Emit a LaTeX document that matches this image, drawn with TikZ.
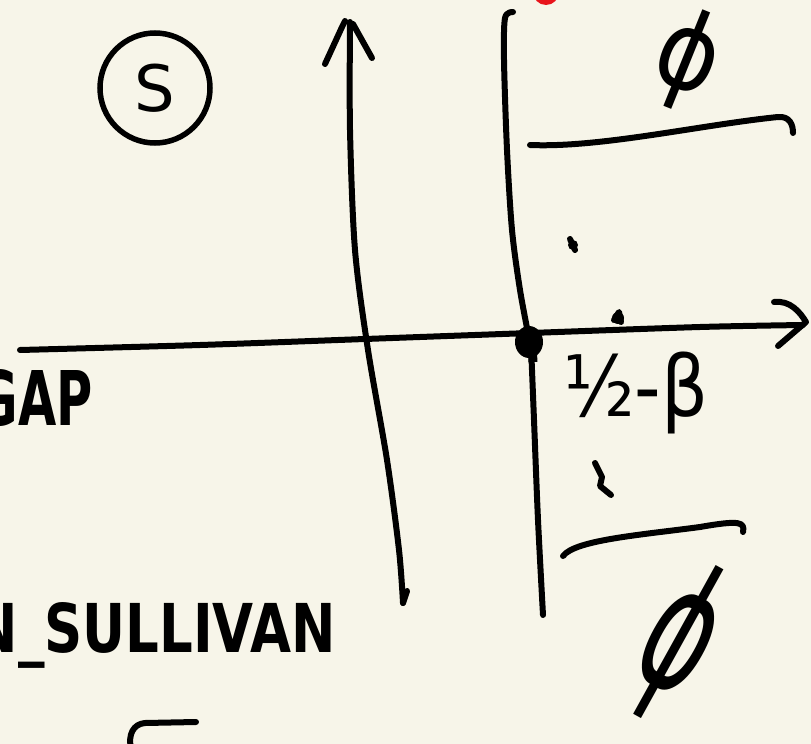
\documentclass[tikz,border=0pt]{standalone}
\usepackage{fontspec}
\setmainfont{DejaVu Sans}
\definecolor{paper}{HTML}{F7F5E9}
\definecolor{ink}{HTML}{000000}
\definecolor{redink}{HTML}{E8141B}
\begin{document}
\begin{tikzpicture}[x=1pt,y=-1pt,
  pen/.style={line width=6pt, line cap=round, line join=round, draw=ink},
  hand/.style={inner sep=0pt, text=ink},
  heavy/.style={hand, font=\bfseries}]
\useasboundingbox (0,0) rectangle (811,744);
\fill[paper] (0,0) rectangle (811,744);
\clip (0,0) rectangle (811,744);

% red mark at top
\fill[redink] (546,-8) circle (13);

% circled S
\node[hand, circle, draw=ink, line width=5.5pt, minimum size=110pt,
      font=\fontsize{64}{64}\selectfont] (s) at (155,88) {S};

% vertical arrow
\draw[pen] plot[smooth] coordinates {(350,22) (350,130) (355,250) (368,350) (387,460) (399,550) (403,603)};
\draw[pen] (403,603) -- (407,591);
\draw[pen] (325,64) -- (342,27) -- (345,21);
\draw[pen] (353,24) -- (372,58);

% second vertical line
\draw[pen] plot[smooth] coordinates {(513,12) (505,18) (504,60) (507,150) (512,230) (520,290) (529,338)};
\draw[pen] plot[smooth] coordinates {(531,345) (534,420) (538,520) (543,615)};

% horizontal axis
\draw[pen] plot[smooth] coordinates {(20,350) (200,345) (365,339) (530,333) (700,327) (803,325)};
\draw[pen] (774,302) .. controls (790,300) and (800,312) .. (806,322) -- (778,346);

% big point
\fill[ink] (529,342) ellipse (14 and 16);
\draw[line width=9pt, draw=ink] (532,345) -- (533,362);

% small marks
\draw[pen] (570,239) -- (575,250);
\fill[ink] (573,245) circle (5);
\draw[pen] (614,320) -- (619,312) -- (621,322);
\fill[ink] (618,318) circle (6);
\draw[pen] (595,463) -- (602,477) -- (600,486) -- (611,495);

% top bracket line
\draw[pen] (530,145) .. controls (600,148) and (700,125) .. (778,117) .. controls (790,116) and (793,125) .. (793,133);
% bottom bracket line
\draw[pen] (563,556) .. controls (575,540) and (640,535) .. (700,527) .. controls (740,520) and (745,522) .. (743,532);

% partial stroke at bottom left
\draw[pen] (196,722) -- (145,723) .. controls (133,724) and (128,735) .. (131,748);

% texts
\node[heavy, anchor=base east] (gap) at (93,425) {\resizebox{115pt}{56pt}{GAP}};
\node[heavy, anchor=base east] (sullivan) at (336,652) {\resizebox{362pt}{50pt}{N\_SULLIVAN}};
\node[hand, anchor=north west] (half) at (563,352) {\resizebox*{145pt}{82pt}{½-β}};
\node[hand, rotate=-22] (emptytop) at (687,60) {\resizebox*{62pt}{104pt}{ϕ}};
\node[hand, rotate=-29] (emptybot) at (679,642) {\resizebox*{66pt}{170pt}{ϕ}};
\end{tikzpicture}
\end{document}
